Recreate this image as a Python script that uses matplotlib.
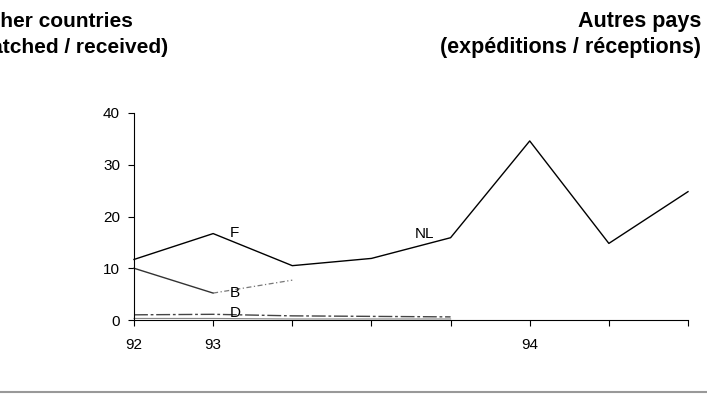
import matplotlib.pyplot as plt

# category positions (quarters), labels only on a few
periods = [0, 1, 2, 3, 4, 5, 6, 7]
tick_labels = ['92', '93', '', '', '', '94', '', '']

# F then NL, one continuous line
f_nl = [11.7, 16.7, 10.5, 11.9, 15.9, 34.6, 14.8, 24.8]
b_vals = [10.0, 5.2, 7.7]
d_vals = [1.0, 1.1, 0.8, 0.7, 0.6]
d2_vals = [0.3, 0.3, 0.2, 0.2, 0.2]

plt.rcParams['font.family'] = ['Liberation Sans', 'DejaVu Sans']

fig = plt.figure(figsize=(7.07, 3.94), dpi=100)
ax = fig.add_axes([134 / 707, 1 - 320 / 394, (688 - 134) / 707, (320 - 113) / 394])

ax.plot(periods, f_nl, color='black', linewidth=1.0, clip_on=False)
ax.plot(periods[:2], b_vals[:2], color='#333333', linewidth=1.0, clip_on=False)
ax.plot(periods[1:3], b_vals[1:], color='#777777', linewidth=0.9,
        dashes=[4, 2, 1, 2], clip_on=False)
ax.plot(periods[:5], d_vals, color='#444444', linewidth=1.0, dashes=[10, 2, 2, 2], clip_on=False)
ax.plot(periods[:5], d2_vals, color='#888888', linewidth=0.8, clip_on=False)

lab = dict(fontsize=11, va='baseline')
ax.text(1.21, 16.0, 'F', **lab)
ax.text(1.21, 4.4, 'B', **lab)
ax.text(1.21, 0.6, 'D', **lab)
ax.text(3.55, 15.8, 'NL', **lab)

ax.set_xlim(0, 7)
ax.set_ylim(0, 40)
ax.set_xticks(periods)
ax.set_xticklabels(tick_labels)
ax.set_yticks([0, 10, 20, 30, 40])
ax.tick_params(axis='both', direction='out', length=4, width=0.8, labelsize=11)
ax.tick_params(axis='x', pad=9)
ax.tick_params(axis='y', pad=6)
for s in ['top', 'right']:
    ax.spines[s].set_visible(False)
for s in ['left', 'bottom']:
    ax.spines[s].set_linewidth(0.8)

title = dict(va='baseline', fontweight='bold', ha='right')
fig.text(133 / 707, 1 - 27 / 394, 'Other countries', fontsize=15, **title)
fig.text(168 / 707, 1 - 53 / 394, '(dispatched / received)', fontsize=15, **title)
fig.text(701 / 707, 1 - 27 / 394, 'Autres pays', fontsize=15.5, **title)
fig.text(701 / 707, 1 - 53 / 394, '(expéditions / réceptions)', fontsize=15.5, **title)

# rule at the bottom of the page
fig.add_artist(plt.Line2D([0, 1], [1 - 392 / 394] * 2, color='#999999', linewidth=1.5))

fig.savefig('out.png', dpi=100)
